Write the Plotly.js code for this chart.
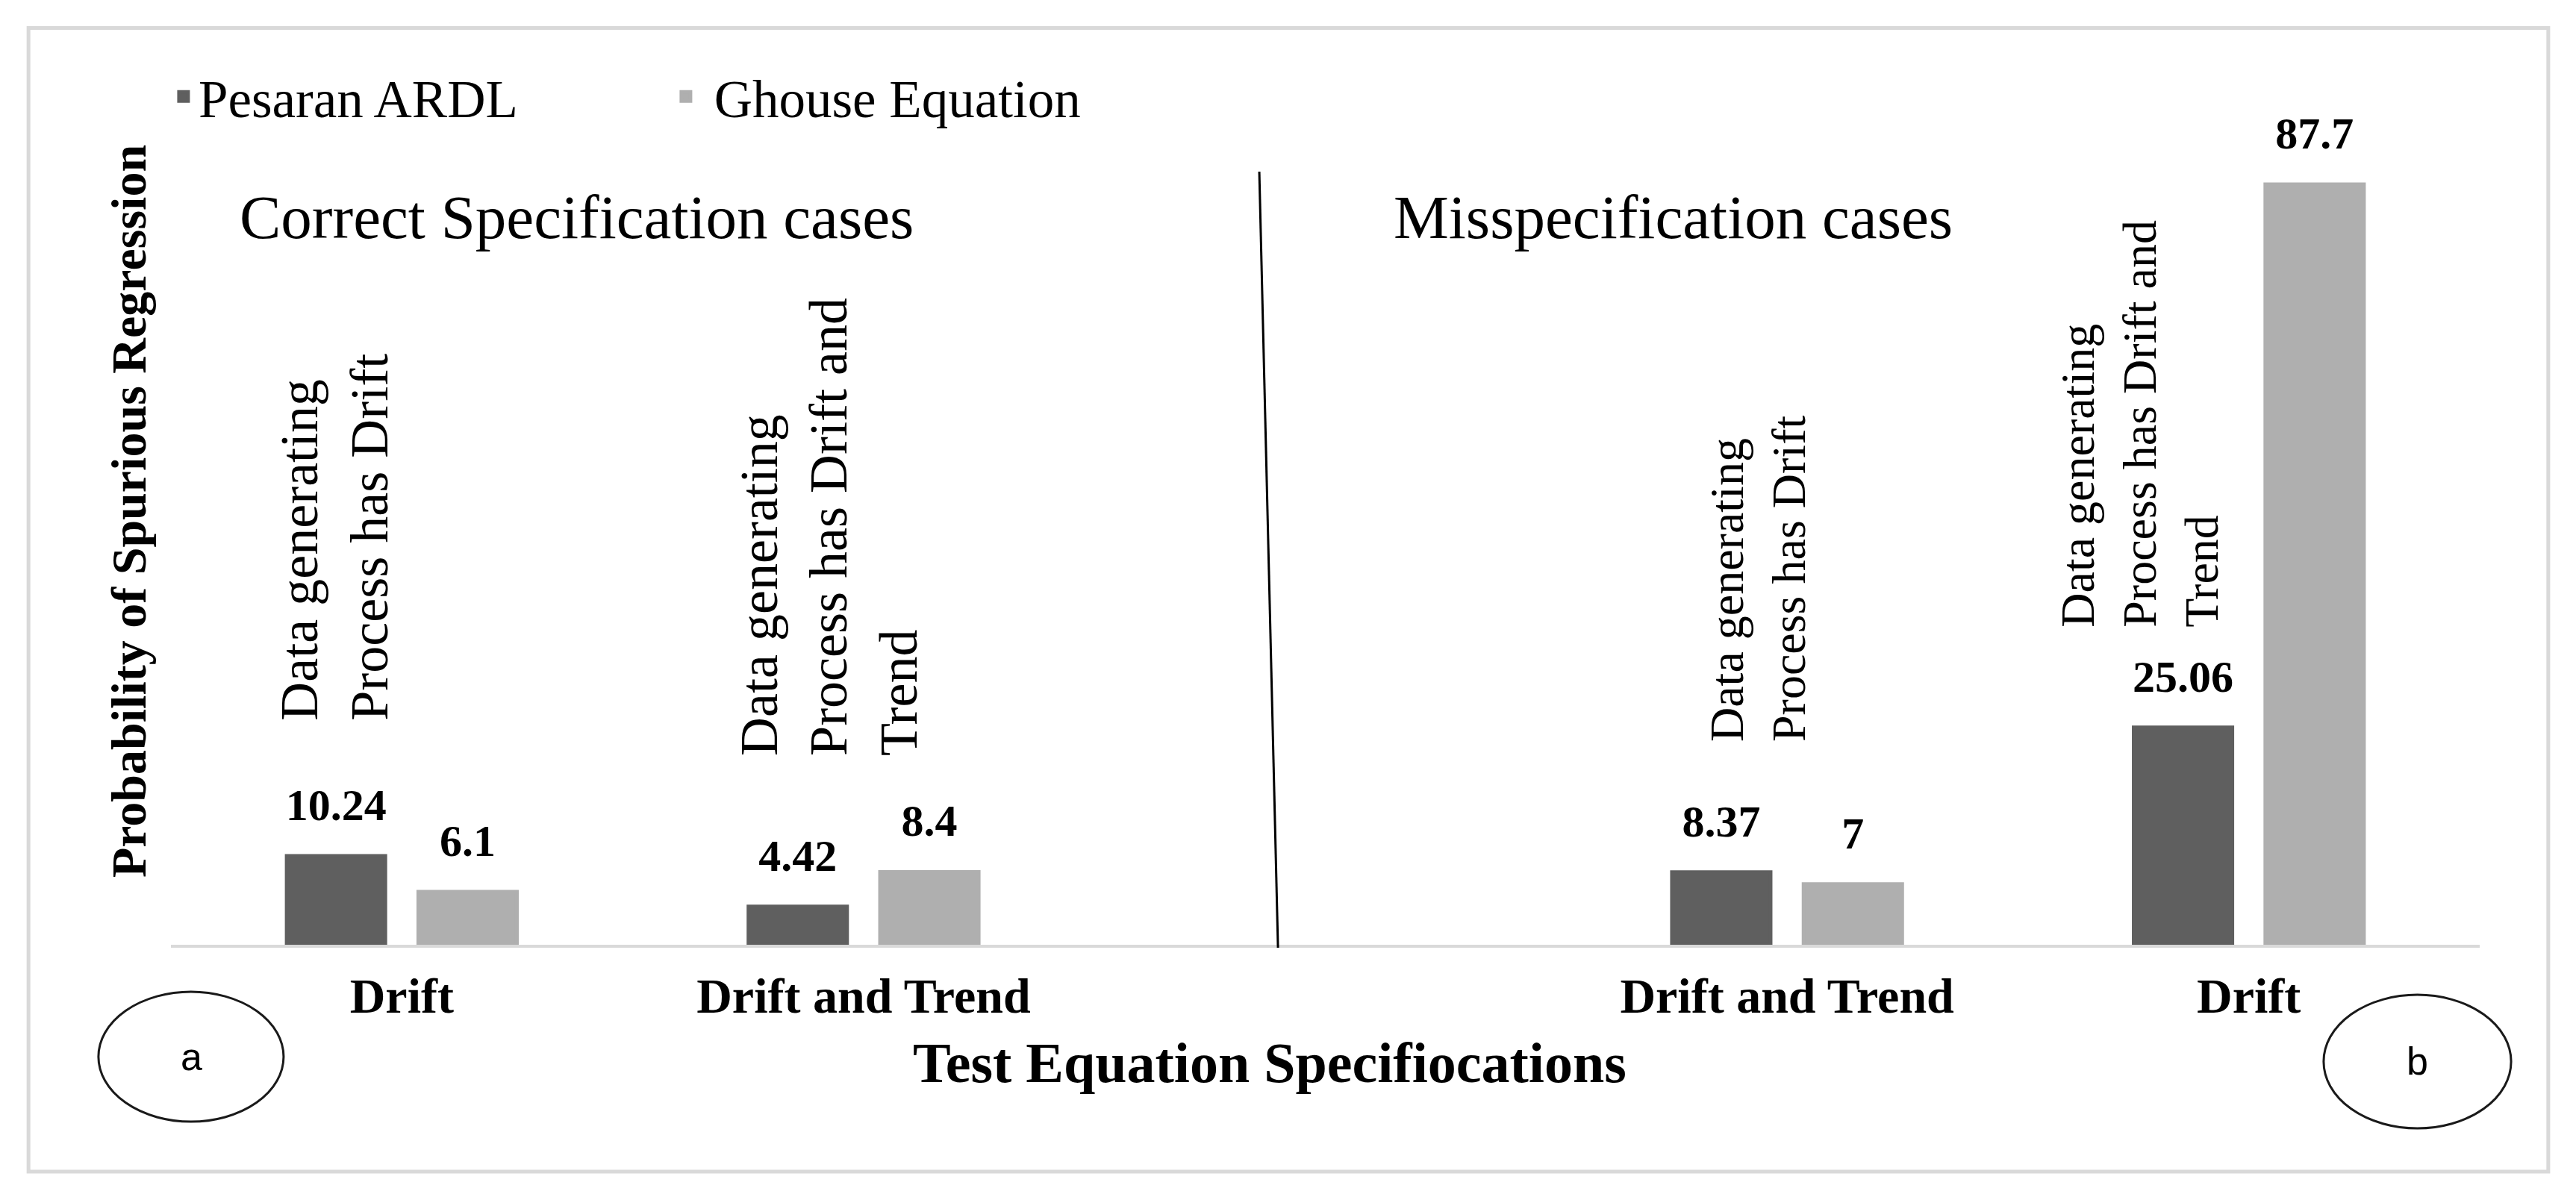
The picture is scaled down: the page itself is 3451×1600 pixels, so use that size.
<!DOCTYPE html>
<html>
<head>
<meta charset="utf-8">
<script src="https://cdn.plot.ly/plotly-3.0.1.min.js"></script>
<style>
  html, body { margin: 0; padding: 0; background: #ffffff; }
  #chart { width: 3451px; height: 1600px; }
</style>
</head>
<body>
<div id="chart"></div>
<script>
// ---- Data ----
const categories = [
  "Correct: Drift",
  "Correct: Drift and Trend",
  "Misspecified: Drift and Trend",
  "Misspecified: Drift"
];
const tickLabels = ["Drift", "Drift and Trend", "Drift and Trend", "Drift"];
const pesaranARDL = [10.24, 4.42, 8.37, 25.06];
const ghouseEquation = [6.1, 8.4, 7, 87.7];
const seriesNames = ["Pesaran ARDL", "Ghouse Equation"];
const dgpNotes = [
  "Data generating<br>Process has Drift",
  "Data generating<br>Process has Drift and<br>Trend",
  "Data generating<br>Process has Drift",
  "Data generating<br>Process has Drift and<br>Trend"
];
const panelTitles = ["Correct Specification cases", "Misspecification cases"];
const panelTags = ["a", "b"];
const xTitle = "Test Equation Specifiocations";
const yTitle = "Probability of Spurious Regression";

// ---- Styling ----
const SERIF = "'Liberation Serif', 'Times New Roman', serif";
const SANS = "'Liberation Sans', Arial, sans-serif";
const darkGrey = "#5f5f5f";
const lightGrey = "#afafaf";
const NBSP = "\u00A0";

const gapCategory = "(gap)";
const categoryOrder = [categories[0], categories[1], gapCategory, categories[2], categories[3]];

function barTrace(name, values, color) {
  return {
    type: "bar",
    name: name,
    x: categories,
    y: values,
    marker: { color: color, line: { width: 5, color: color } },
    texttemplate: "<span style='font-size:60px'>%{y}</span><br>" + NBSP,
    textposition: "outside",
    constraintext: "none",
    cliponaxis: false,
    textfont: { family: SERIF, size: 30, color: "#000000", weight: "bold" },
    hoverinfo: "skip"
  };
}

const traces = [
  barTrace(seriesNames[0], pesaranARDL, darkGrey),
  barTrace(NBSP + seriesNames[1], ghouseEquation, lightGrey)
];

// rotated notes: per-note placement (style, not data)
const notePlacement = [
  { xshift: -90, y: 25.7, size: 72 },
  { xshift: -47, y: 21.6, size: 72 },
  { xshift: -39, y: 23.2, size: 64 },
  { xshift: -147, y: 36.4, size: 64 }
];

const annotations = [];
dgpNotes.forEach(function (txt, i) {
  const p = notePlacement[i];
  annotations.push({
    xref: "x", yref: "y",
    x: categories[i], y: p.y,
    xshift: p.xshift,
    xanchor: "center", yanchor: "bottom",
    text: txt, textangle: -90, align: "left",
    showarrow: false,
    font: { family: SERIF, size: p.size, color: "#000000" }
  });
});

const panelTitleX = [0.1756, 0.6508];
panelTitles.forEach(function (t, i) {
  annotations.push({
    xref: "paper", yref: "paper",
    x: panelTitleX[i], y: 0.839,
    xanchor: "center", yanchor: "middle",
    text: t, showarrow: false,
    font: { family: SERIF, size: 83, color: "#000000" }
  });
});

// x-axis title (placed as annotation so it can sit left of centre like the original)
annotations.push({
  xref: "paper", yref: "paper",
  x: 0.476, y: -0.136,
  xanchor: "center", yanchor: "middle",
  text: xTitle, showarrow: false,
  font: { family: SERIF, size: 76, color: "#000000", weight: "bold" }
});

const tagPos = [{ x: 0.0090, y: -0.129 }, { x: 0.9730, y: -0.134 }];
panelTags.forEach(function (t, i) {
  annotations.push({
    xref: "paper", yref: "paper",
    x: tagPos[i].x, y: tagPos[i].y,
    xanchor: "center", yanchor: "middle",
    text: t, showarrow: false,
    font: { family: SANS, size: 52, color: "#000000" }
  });
});

const shapes = [
  // outer frame
  { type: "rect", xref: "paper", yref: "paper",
    x0: -0.0617, x1: 1.0297, y0: -0.2616, y1: 1.0572,
    line: { color: "#d9d9d9", width: 5 }, fillcolor: "rgba(0,0,0,0)", layer: "below" },
  // divider between panels
  { type: "line", xref: "paper", yref: "paper",
    x0: 0.4714, x1: 0.4795, y0: 0.8916, y1: -0.0034,
    line: { color: "#000000", width: 3 } },
  // circle a
  { type: "circle", xref: "paper", yref: "paper",
    x0: -0.0314, x1: 0.0488, y0: -0.204, y1: -0.0542,
    line: { color: "#1a1a1a", width: 3 } },
  // circle b
  { type: "circle", xref: "paper", yref: "paper",
    x0: 0.9324, x1: 1.0136, y0: -0.2117, y1: -0.0577,
    line: { color: "#1a1a1a", width: 3 } }
];

const layout = {
  width: 3451,
  height: 1600,
  margin: { l: 229, r: 129, t: 104, b: 334, pad: 0 },
  paper_bgcolor: "#ffffff",
  plot_bgcolor: "#ffffff",
  font: { family: SERIF, color: "#000000" },
  barmode: "group",
  bargap: 0.43,
  bargroupgap: 0.251,
  showlegend: true,
  legend: {
    orientation: "h",
    x: -0.001, xanchor: "left",
    y: 0.978, yanchor: "middle",
    font: { family: SERIF, size: 71, color: "#000000" },
    entrywidth: 628, entrywidthmode: "pixels",
    bgcolor: "rgba(0,0,0,0)",
    traceorder: "normal"
  },
  xaxis: {
    type: "category",
    categoryorder: "array",
    categoryarray: categoryOrder,
    range: [-0.5, 4.5],
    tickmode: "array",
    tickvals: categories,
    ticktext: tickLabels,
    tickfont: { family: SERIF, size: 66, color: "#000000", weight: "bold" },
    ticks: "",
    ticklabelstandoff: 8,
    showline: true,
    linecolor: "#d9d9d9",
    linewidth: 4,
    showgrid: false,
    zeroline: false,
    automargin: false,
    fixedrange: true
  },
  yaxis: {
    range: [0, 100],
    showticklabels: false,
    ticks: "",
    showgrid: false,
    zeroline: false,
    showline: false,
    automargin: false,
    fixedrange: true,
    title: {
      text: yTitle,
      font: { family: SERIF, size: 66, color: "#000000", weight: "bold" },
      standoff: 10
    }
  },
  shapes: shapes,
  annotations: annotations
};

Plotly.newPlot("chart", traces, layout, { staticPlot: true, displayModeBar: false, responsive: false });
</script>
</body>
</html>
